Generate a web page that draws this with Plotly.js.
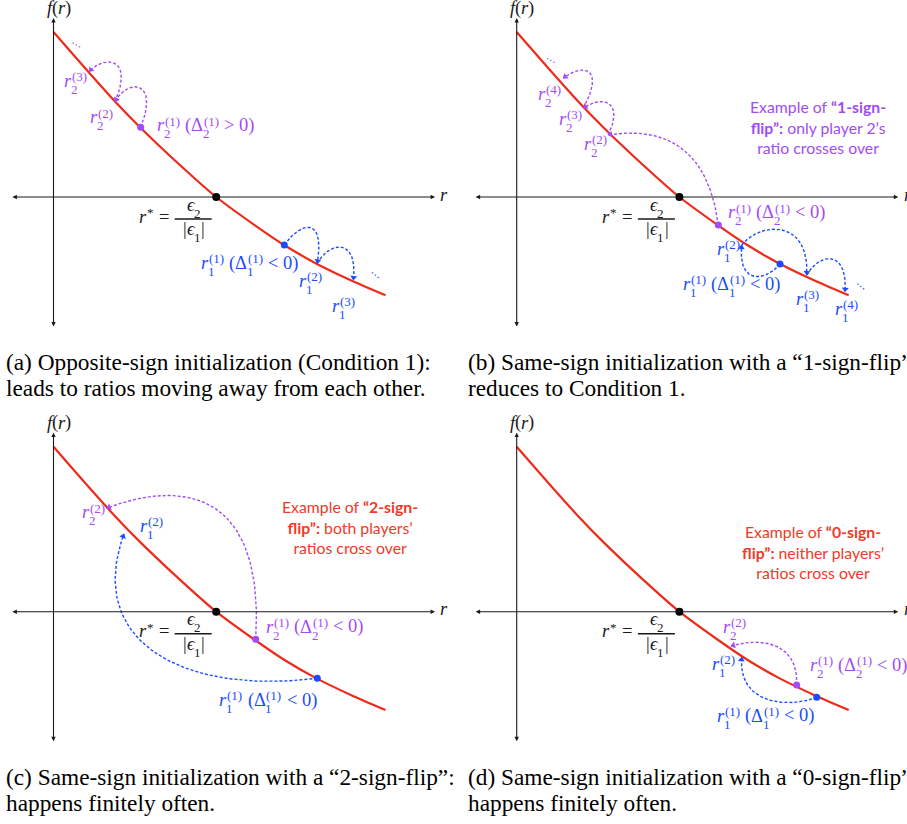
<!DOCTYPE html>
<html><head><meta charset="utf-8">
<script src="https://cdn.plot.ly/plotly-3.0.1.min.js"></script>
<style>html,body{margin:0;padding:0;background:#fff}</style>
</head><body>
<div id="chart" style="width:907px;height:824px"></div>
<script>
// ---------------- DATA ----------------
// the decreasing curve f(r), shared by the four panels
const curveR = [0, 0.35, 0.62, 0.87, 1.25, 1.627, 2.0, 2.31, 2.63, 3.0, 3.32];
const curveF = [1.65, 1.25, 0.95, 0.693, 0.333, 0, -0.273, -0.483, -0.667, -0.845, -0.983];
const rootR = [1.627];
const rootF = [0];
// iterates r^(1), r^(2), ... for player 2 (purple) and player 1 (blue)
const aP2R = [0.872, 0.615, 0.358],  aP2F = [0.697, 0.953, 1.253];
const aP1R = [2.308, 2.638, 2.998],  aP1F = [-0.48, -0.663, -0.83];
const bP2R = [2.016, 0.915, 0.666, 0.466], bP2F = [-0.28, 0.62, 0.887, 1.187];
const bP1R = [2.633, 2.25, 2.9, 3.283],    bP1F = [-0.67, -0.48, -0.78, -0.947];
const cP2R = [2.022, 0.532], cP2F = [-0.276, 1.034];
const cP1R = [2.638, 0.705], cP1F = [-0.666, 0.777];
const dP2R = [2.8, 2.143],   dP2F = [-0.733, -0.343];
const dP1R = [3.0, 2.25],    dP1F = [-0.856, -0.456];
// texts
const notes = [
  null,
  'Example of <b>“1-sign-</b><br><b>flip”:</b> only player 2’s<br>ratio crosses over',
  'Example of <b>“2-sign-</b><br><b>flip”:</b> both players’<br>ratios cross over',
  'Example of <b>“0-sign-</b><br><b>flip”:</b> neither players’<br>ratios cross over'
];
const captions = [
  ['(a) Opposite-sign initialization (Condition 1):', 'leads to ratios moving away from each other.'],
  ['(b) Same-sign initialization with a “1-sign-flip”', 'reduces to Condition 1.'],
  ['(c) Same-sign initialization with a “2-sign-flip”:', 'happens finitely often.'],
  ['(d) Same-sign initialization with a “0-sign-flip”', 'happens finitely often.']
];

// ---------------- LAYOUT / STYLE ----------------
const W = 907, H = 824, S = 100;
const RED = '#ee2a1a', PURPLE = '#a24cf5', BLUE = '#1a4cff', INK = '#1a1a1a', NOTE_RED = '#f03a28';
const SERIF = '"Liberation Serif", "DejaVu Serif", serif';
const FS = 18.5;
const panels = [
  {ox: 53.5,  oy: 197,   box: [0, 454, 0, 345],   p2: [aP2R, aP2F], p1: [aP1R, aP1F],
   arc2: [[19,-47,13,-24],[20,-46,13,-16]], arc1: [[16,-23,8,-48],[13,-23,5,-42]]},
  {ox: 516.7, oy: 197,   box: [454, 907, 0, 345], p2: [bP2R, bP2F], p1: [bP1R, bP1F],
   arc2: [[-10,-78,55,-9],[17,-35,17,-13],[22,-40,20,-16]], arc1: [[-15,18,-4,40],[18,-23,3,-57],[13,-23,3,-42]]},
  {ox: 53.5,  oy: 611.7, box: [0, 454, 400, 760], p2: [cP2R, cP2F], p1: [cP1R, cP1F],
   arc2: [[10,-164,58,-23]], arc1: [[-137,17,-39,106]]},
  {ox: 516.7, oy: 611.7, box: [454, 907, 400, 760], p2: [dP2R, dP2F], p1: [dP1R, dP1F],
   arc2: [[2,-40,34,-10]], arc1: [[-27,11,-4,48]]}
];

const cv = document.createElement('canvas').getContext('2d');
function tw(t, size, it, fam) { cv.font = (it ? 'italic ' : '') + size + 'px ' + (fam || SERIF); return cv.measureText(t).width; }
const K = 0.34;
function esc(t) { return t.replace(/&/g,'&amp;').replace(/</g,'&lt;').replace(/>/g,'&gt;'); }
function txt(x, base, t, size, it, color, fam, extra) {
  const lead = t.length - t.replace(/^ +/, '').length;
  if (lead) { x += tw(' '.repeat(lead), size, it, fam); t = t.slice(lead); }
  t = t.replace(/ +$/, '');
  const s = esc(t);
  return Object.assign({xref:'paper', yref:'paper', x: x / W, y: 1 - (base - K * size) / H,
    xanchor:'left', yanchor:'middle', showarrow:false, borderpad:0,
    text: it ? '<i>' + s + '</i>' : s, font:{family: fam || SERIF, size: size, color: color}}, extra || {});
}
function typeset(anns, x, base, toks, color, size) {
  let cx = x; const ss = Math.round(size * 0.7);
  toks.forEach(k => {
    if (k.sub !== undefined || k.sup !== undefined) {
      let w = 0;
      if (k.sup !== undefined) { anns.push(txt(cx + 0.8, base - 0.33 * size, k.sup, ss, false, color)); w = Math.max(w, 0.8 + tw(k.sup, ss, false)); }
      if (k.sub !== undefined) { anns.push(txt(cx - 0.3, base + 0.36 * size, k.sub, ss, false, color)); w = Math.max(w, tw(k.sub, ss, false)); }
      cx += w + 0.5;
    } else { anns.push(txt(cx, base, k.t, size, !!k.it, color)); cx += tw(k.t, size, !!k.it); }
  });
  return cx - x;
}
function measure(toks, size) {
  const ss = Math.round(size * 0.7); let w = 0;
  toks.forEach(k => {
    if (k.sub !== undefined || k.sup !== undefined) w += Math.max(k.sup !== undefined ? 0.8 + tw(k.sup, ss, false) : 0, k.sub !== undefined ? tw(k.sub, ss, false) : 0) + 0.5;
    else w += tw(k.t, size, !!k.it);
  });
  return w;
}
const R = (i, k) => [{t:'r', it:1}, {sub: String(i), sup: '(' + k + ')'}];
const COND = (i, sgn) => R(i, 1).concat([{t:' ('}, {t:'Δ'}, {sub: String(i), sup:'(1)'}, {t:' ' + sgn + ' 0)'}]);

// label positions (left of r, centre of r) in page pixels
const labels = [
  [62.7, 83.5, R(2,3), PURPLE], [89.3, 120, R(2,2), PURPLE], [155.7, 128, COND(2,'>'), PURPLE],
  [200, 265.8, COND(1,'<'), BLUE], [298.3, 283.7, R(1,2), BLUE], [331, 308.3, R(1,3), BLUE],
  [536.7, 96.7, R(2,4), PURPLE], [558.3, 121.7, R(2,3), PURPLE], [583.3, 146.7, R(2,2), PURPLE],
  [726.7, 215, COND(2,'<'), PURPLE], [715.7, 251.7, R(1,2), BLUE], [681.7, 286.7, COND(1,'<'), BLUE],
  [795, 301.7, R(1,3), BLUE], [834.3, 311.7, R(1,4), BLUE],
  [81, 515, R(2,2), PURPLE], [139.3, 528.3, R(1,2), BLUE], [265, 629.3, COND(2,'<'), PURPLE], [218.3, 702.7, COND(1,'<'), BLUE],
  [721.7, 629.3, R(2,2), PURPLE], [711, 666.7, R(1,2), BLUE], [809, 667.7, COND(2,'<'), PURPLE], [715.7, 718.3, COND(1,'<'), BLUE]
];
const dots = [ // ellipsis centre x, y, angle, colour
  [76, 44.2, 31, PURPLE], [375.8, 275, 38, BLUE], [550.8, 60.8, 31, PURPLE], [860.8, 286.7, 40, BLUE]
];
const noteGeom = [null, [818.3, 127.5, PURPLE], [350, 527.3, NOTE_RED], [813.3, 552, NOTE_RED]];
const capX = [5, 467, 5, 467], capBase = [370, 370, 785, 785];

// ---------------- BUILD ----------------
const data = [], anns = [], shapes = [];
const layout = {width: W, height: H, margin:{l:0,r:0,t:0,b:0}, paper_bgcolor:'#fff', plot_bgcolor:'rgba(0,0,0,0)', showlegend:false};

function bez(A, B, C, D, t) { const u = 1 - t; return [u*u*u*A[0] + 3*u*u*t*B[0] + 3*u*t*t*C[0] + t*t*t*D[0], u*u*u*A[1] + 3*u*u*t*B[1] + 3*u*t*t*C[1] + t*t*t*D[1]]; }

panels.forEach((P, i) => {
  const xa = i ? 'x' + (i + 1) : 'x', ya = i ? 'y' + (i + 1) : 'y';
  const [x0, x1, y0, y1] = P.box;
  layout['xaxis' + (i ? i + 1 : '')] = {domain:[x0 / W, x1 / W], range:[(x0 - P.ox) / S, (x1 - P.ox) / S], visible:false, fixedrange:true, anchor: ya};
  layout['yaxis' + (i ? i + 1 : '')] = {domain:[1 - y1 / H, 1 - y0 / H], range:[(P.oy - y1) / S, (P.oy - y0) / S], visible:false, fixedrange:true, anchor: xa};
  const toPx = (r, f) => [P.ox + r * S, P.oy - f * S];
  const toD = (p) => [(p[0] - P.ox) / S, (P.oy - p[1]) / S];

  // axes with arrows
  anns.push({xref:xa, yref:ya, axref:xa, ayref:ya, x:3.815, y:0, ax:-0.425, ay:0, text:'', showarrow:true,
    arrowhead:2, startarrowhead:2, arrowside:'end+start', arrowsize:0.8, startarrowsize:0.8, arrowwidth:1.1, arrowcolor:INK});
  anns.push({xref:xa, yref:ya, axref:xa, ayref:ya, x:0, y:1.79, ax:0, ay:-1.31, text:'', showarrow:true,
    arrowhead:2, startarrowhead:2, arrowside:'end+start', arrowsize:0.8, startarrowsize:0.8, arrowwidth:1.1, arrowcolor:INK});

  // curve
  data.push({type:'scatter', mode:'lines', x:curveR, y:curveF, xaxis:xa, yaxis:ya, cliponaxis:false, hoverinfo:'skip',
    line:{color:RED, width:2.2, shape:'spline', smoothing:0.8}});

  // arcs + arrowheads
  [[P.p2, P.arc2, PURPLE], [P.p1, P.arc1, BLUE]].forEach(([ser, arcs, col]) => {
    const [rs, fs] = ser;
    for (let k = 0; k < rs.length - 1; k++) {
      const A = toPx(rs[k], fs[k]), D = toPx(rs[k + 1], fs[k + 1]), g = arcs[k];
      const B = [A[0] + g[0], A[1] + g[1]], C = [D[0] + g[2], D[1] + g[3]];
      const xs = [], ys = [];
      for (let j = 0; j <= 60; j++) { const d = toD(bez(A, B, C, D, j / 60)); xs.push(d[0]); ys.push(d[1]); }
      data.push({type:'scatter', mode:'lines', x:xs, y:ys, xaxis:xa, yaxis:ya, cliponaxis:false, hoverinfo:'skip',
        line:{color:col, width:1.4, dash:'3px,2px'}});
      let vx = D[0] - C[0], vy = D[1] - C[1]; const n = Math.hypot(vx, vy); vx /= n; vy /= n;
      const m = toD([D[0] - vx * 2.5, D[1] - vy * 2.5]);
      data.push({type:'scatter', mode:'markers', x:[m[0]], y:[m[1]], xaxis:xa, yaxis:ya, cliponaxis:false, hoverinfo:'skip',
        marker:{symbol:'triangle-up', size:6, color:col, angle: Math.atan2(vx, -vy) * 180 / Math.PI, line:{width:0}}});
    }
    data.push({type:'scatter', mode:'markers', x:[rs[0]], y:[fs[0]], xaxis:xa, yaxis:ya, cliponaxis:false, hoverinfo:'skip',
      marker:{size:7, color:col}});
  });
  // root
  data.push({type:'scatter', mode:'markers', x:rootR, y:rootF, xaxis:xa, yaxis:ya, cliponaxis:false, hoverinfo:'skip',
    marker:{size:8, color:'#000'}});

  // f(r) and r labels
  typeset(anns, P.ox - 8, P.oy - 182.5, [{t:'f', it:1}, {t:'('}, {t:'r', it:1}, {t:')'}], INK, FS);
  typeset(anns, P.ox + 385.8, P.oy + 3.8, [{t:'r', it:1}], INK, FS);

  // r* = eps2 / |eps1|
  const wl = typeset(anns, P.ox + 84.5, P.oy + 26, [{t:'r', it:1}, {sup:'*'}, {t:' = '}], INK, FS);
  const bx0 = P.ox + 84.5 + wl + 2, bx1 = bx0 + 37, bc = (bx0 + bx1) / 2, by = P.oy + 22;
  shapes.push({type:'line', xref:'paper', yref:'paper', x0:bx0 / W, x1:bx1 / W, y0:1 - by / H, y1:1 - by / H, line:{color:INK, width:1.4}});
  const num = [{t:'ϵ', it:1}, {sub:'2'}], den = [{t:'|'}, {t:'ϵ', it:1}, {sub:'1'}, {t:'|'}];
  typeset(anns, bc - measure(num, FS) / 2, P.oy + 14, num, INK, FS);
  typeset(anns, bc - measure(den, FS) / 2, P.oy + 38.5, den, INK, FS);

  // note
  if (notes[i]) {
    const g = noteGeom[i];
    anns.push({xref:'paper', yref:'paper', x:g[0] / W, y:1 - g[1] / H, xanchor:'center', yanchor:'middle', align:'center',
      showarrow:false, text:notes[i], font:{family:'Lato, "Open Sans", sans-serif', size:15.8, color:g[2]}});
  }
  // captions
  const cs = 20 * 425 / tw(captions[0][0], 20, false);
  captions[i].forEach((line, j) => anns.push(txt(capX[i], capBase[i] + 26 * j, line, cs, false, '#000')));
});

labels.forEach(([x, yc, toks, col]) => typeset(anns, x, yc + 0.2 * FS, toks, col, FS));
dots.forEach(([x, y, a, col]) => anns.push({xref:'paper', yref:'paper', x:x / W, y:1 - y / H, xanchor:'center', yanchor:'middle',
  showarrow:false, text:'⋯', textangle:a, font:{family:'DejaVu Sans', size:11, color:col}}));

layout.annotations = anns;
layout.shapes = shapes;
Plotly.newPlot('chart', data, layout, {staticPlot:true, displayModeBar:false});
</script>
</body></html>
